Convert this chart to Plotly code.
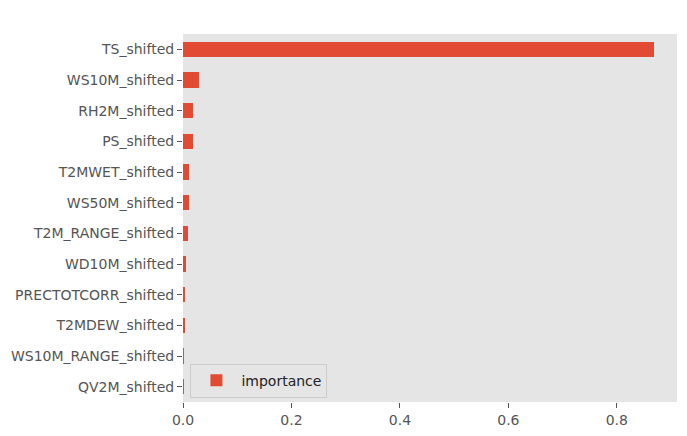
import plotly.graph_objects as go

features = ["TS_shifted", "WS10M_shifted", "RH2M_shifted", "PS_shifted", "T2MWET_shifted",
            "WS50M_shifted", "T2M_RANGE_shifted", "WD10M_shifted", "PRECTOTCORR_shifted",
            "T2MDEW_shifted", "WS10M_RANGE_shifted", "QV2M_shifted"]
importance = [0.868, 0.030, 0.019, 0.019, 0.0116, 0.0114, 0.0098, 0.0061, 0.0042, 0.0041, 0.0004, 0.0001]
xticks = [0.0, 0.2, 0.4, 0.6, 0.8]

fig = go.Figure()
fig.add_trace(go.Bar(
    x=importance, y=features, orientation="h", width=0.5,
    marker=dict(color="#E24A33", line=dict(width=0)),
    name="importance", showlegend=True,
))

fig.update_layout(
    width=687, height=436,
    margin=dict(l=183, r=10, t=34, b=34, autoexpand=False),
    paper_bgcolor="white", plot_bgcolor="#E5E5E5",
    font=dict(family="DejaVu Sans", size=14, color="#555555"),
    showlegend=True,
    legend=dict(x=0.015, y=0.012, xanchor="left", yanchor="bottom",
                bgcolor="#E5E5E5", bordercolor="#CCCCCC", borderwidth=1,
                itemwidth=40,
                font=dict(size=14, color="#222222")),
    bargap=0,
)
fig.update_xaxes(range=[0, 0.911], tickvals=xticks, ticktext=[f"{v:.1f}" for v in xticks],
                 showgrid=False, zeroline=False, ticks="outside", ticklen=5, tickcolor="#555555",
                 tickfont=dict(size=14, color="#555555"), showline=False, automargin=False)
fig.update_yaxes(categoryorder="array", categoryarray=features,
                 range=[len(features) - 0.5, -0.5],
                 showgrid=False, zeroline=False, ticks="outside", ticklen=5, tickcolor="#555555",
                 tickfont=dict(size=14, color="#555555"), showline=False, automargin=False)

fig.write_html("out.html", config={"displayModeBar": False},
               post_script="document.body.style.margin='0';document.body.style.overflow='hidden';")
